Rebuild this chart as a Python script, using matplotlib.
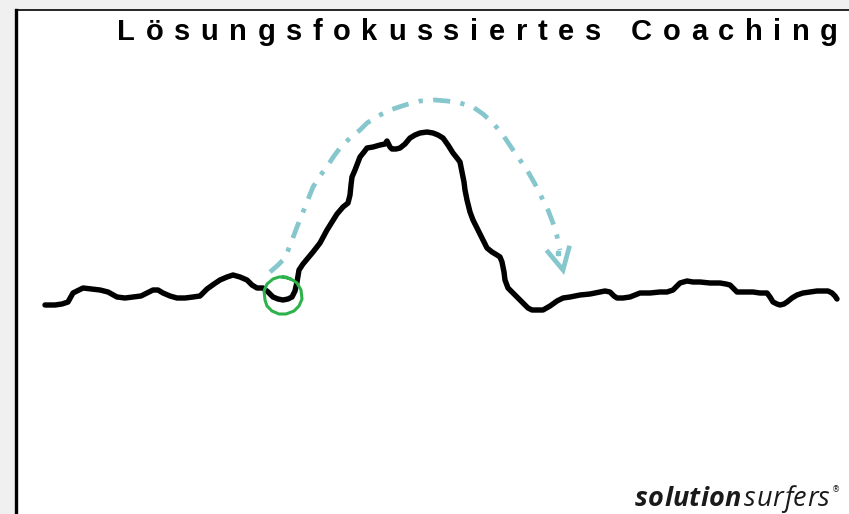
import numpy as np
import matplotlib
matplotlib.use('Agg')
from matplotlib import pyplot as plt
from matplotlib.patches import Rectangle


# traced shapes (pixel coordinates, y down)

wave_x = [45, 55, 62, 68, 73, 83, 92, 100, 108, 117, 125, 133, 141, 147, 153, 158,
          163, 170, 177, 185, 193, 200, 207, 214, 220, 227, 233, 240, 247, 252,
          257, 263, 268, 273, 278, 283, 288, 292, 295, 297, 299, 303, 308, 313,
          320, 327, 332, 337, 343, 348, 350, 351, 352, 355, 360, 364, 367, 373,
          380, 385, 387, 390, 392, 396, 400, 405, 410, 415, 420, 427, 433, 438,
          443, 448, 453, 457, 460, 462, 464, 465, 467, 470, 473, 477, 482, 487,
          492, 497, 500, 502, 504, 505, 508, 513, 518, 523, 528, 532, 538, 543,
          550, 557, 563, 570, 580, 590, 600, 605, 610, 614, 617, 623, 630, 635,
          640, 650, 660, 667, 673, 680, 687, 693, 700, 710, 720, 726, 730, 734,
          737, 745, 753, 760, 767, 770, 773, 777, 780, 784, 787, 792, 797, 803,
          810, 817, 823, 828, 832, 835, 837]
wave_y = [305, 305, 304, 302, 293, 288, 289, 290, 292, 297, 298, 297, 296, 293, 290, 290,
          293, 296, 298, 298, 297, 296, 289, 284, 280, 277, 275, 277, 280, 285,
          288, 288, 292, 297, 299, 300, 299, 297, 291, 282, 270, 264, 258, 252,
          243, 230, 222, 214, 207, 203, 195, 185, 177, 170, 157, 152, 148, 147,
          145, 144, 141, 147, 149, 149, 148, 144, 138, 135, 133, 132, 133, 135,
          138, 145, 153, 158, 162, 172, 182, 190, 200, 212, 220, 228, 238, 248,
          252, 255, 257, 262, 272, 280, 288, 293, 298, 303, 308, 310, 310, 310,
          306, 301, 298, 297, 295, 294, 292, 291, 292, 296, 298, 298, 297, 295,
          293, 293, 292, 292, 290, 283, 281, 282, 282, 283, 283, 284, 285, 289,
          292, 292, 292, 293, 293, 297, 302, 304, 305, 304, 302, 298, 295, 293,
          292, 291, 291, 291, 293, 296, 299]

arc_x = [270, 277, 285, 291, 297, 305, 313, 320, 328, 334, 340, 350, 360, 367, 378,
         390, 405, 420, 435, 447, 460, 473, 483, 493, 503, 513, 520, 527, 535, 542,
         548, 553, 557, 560]
arc_y = [272, 266, 258, 243, 227, 207, 187, 176, 165, 156, 148, 138, 130, 123, 116,
         110, 105, 101, 100, 101, 103, 107, 114, 123, 135, 150, 160, 170, 184, 198,
         210, 223, 236, 250]
head_x = [548, 563, 569]
head_y = [252, 270, 248]

ring_x = [283, 291, 297, 301, 302, 299, 294, 286, 279, 272, 267, 265, 264, 267, 273, 279, 286, 290]
ring_y = [277, 279, 283, 290, 299, 306, 311, 314, 314, 311, 306, 300, 291, 284, 279, 277, 277, 279]

title = 'Lösungsfokussiertes Coaching'
logo_bold = 'solution'
logo_light = 'surfers'


W, H = 849, 514
fig = plt.figure(figsize=(W / 100, H / 100), dpi=100, facecolor='#f0f0f0')
ax = fig.add_axes([0, 0, 1, 1])
ax.set_xlim(0, W)
ax.set_ylim(H, 0)
ax.axis('off')

# slide panel
ax.add_patch(Rectangle((16, 10), W, H, facecolor='white', edgecolor='none', zorder=0))
ax.plot([16, W + 5], [10, 10], color='black', lw=1.2, zorder=1)
ax.plot([16.5, 16.5], [10, H + 5], color='black', lw=2.4, zorder=1)

# curve
ax.plot(wave_x, wave_y, color='black', lw=3.9, solid_capstyle='round',
        solid_joinstyle='round', zorder=3)

# arrow
teal = '#86c6cd'
lw_arrow = 3.4
ax.plot(arc_x, arc_y, color=teal, lw=lw_arrow, zorder=4,
        linestyle=(0, (3.6, 2.2, 0.9, 2.2)), dash_capstyle='butt')
ax.plot(head_x, head_y, color=teal, lw=lw_arrow, zorder=4, solid_joinstyle='miter')
ax.plot([558], [253], 's', color=teal, ms=3, zorder=4)

# green ring
ax.plot(ring_x, ring_y, color='#2fb24c', lw=2.2, zorder=5)

fig.canvas.draw()
r = fig.canvas.get_renderer()


def spaced(chars, x0, x1, y, **kw):
    # place characters one by one so they fill x0..x1
    widths = []
    for ch in chars:
        t = ax.text(0, 0, ch if ch != ' ' else 'n', **kw)
        widths.append(t.get_window_extent(r).width * (0.5 if ch == ' ' else 1))
        t.remove()
    track = (x1 - x0 - sum(widths)) / (len(chars) - 1)
    x = x0
    for ch, w in zip(chars, widths):
        if ch != ' ':
            ax.text(x, y, ch, ha='left', va='baseline', **kw)
        x += w + track


# title with wide tracking
spaced(title, 117, 838, 40, family=['Liberation Sans', 'DejaVu Sans'],
       weight='bold', size=21, color='black')

# logo
lfont = dict(family=['Open Sans', 'DejaVu Sans'], style='italic', size=19.5, color='#1a1a1a')
spaced(logo_bold, 635, 741, 506, weight='bold', **lfont)
spaced(logo_light, 744, 830, 506, **lfont)
ax.text(832, 492, '®', ha='left', va='baseline',
        family='DejaVu Sans', size=6, color='#1a1a1a')

plt.savefig('out.png', dpi=100, facecolor=fig.get_facecolor())
